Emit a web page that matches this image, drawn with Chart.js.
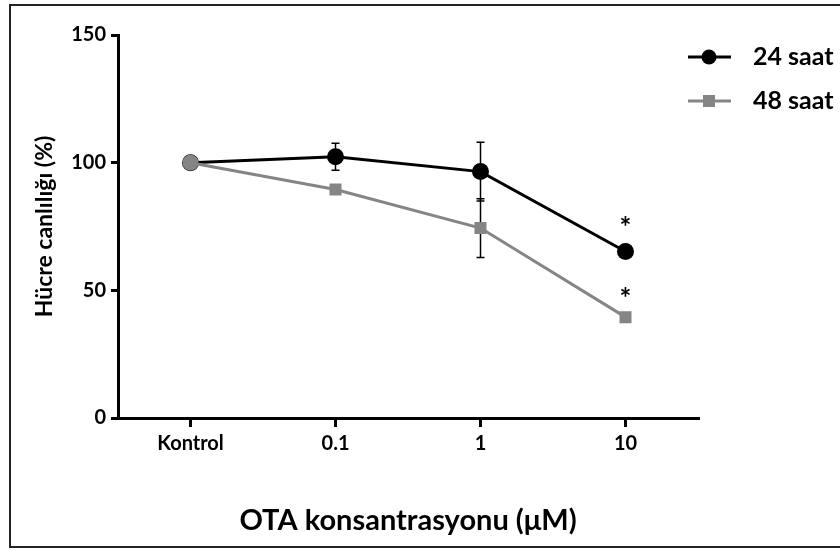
<!DOCTYPE html>
<html>
<head>
<meta charset="utf-8">
<script src="https://cdn.jsdelivr.net/npm/chart.js@4/dist/chart.umd.min.js"></script>
<style>
body { margin: 0; background: #fff; }
#wrap { width: 840px; height: 550px; }
</style>
</head>
<body>
<div id="wrap"><canvas id="myChart" width="840" height="550"></canvas></div>
<script>
'use strict'

// data

var categories = ['Kontrol', '0.1', '1', '10'];
var saat24 = [100, 102.3, 96.5, 65.2];
var saat24Err = [0, 5.3, 11.5, 0];
var saat48 = [100, 89.5, 74.4, 39.5];
var saat48Err = [0, 0, 11.5, 0];
var significant = [false, false, false, true];
var yTicks = [0, 50, 100, 150];

var GRAY = '#858585';
var FONT = 'Lato, "Open Sans", sans-serif';

// error bars, asterisks, legend and the frame

var extras = {
	id: 'extras',
	beforeDraw: function(chart) {
		var ctx = chart.ctx;
		ctx.save();
		ctx.fillStyle = '#fff';
		ctx.fillRect(0, 0, chart.width, chart.height);
		ctx.strokeStyle = '#222';
		ctx.lineWidth = 2;
		ctx.strokeRect(10, 5, chart.width + 10, 542);
		ctx.restore();
	},
	beforeDatasetsDraw: function(chart) {
		var ctx = chart.ctx;
		var y = chart.scales.y;
		ctx.save();
		ctx.strokeStyle = '#000';
		ctx.lineWidth = 1.5;
		[[0, saat24, saat24Err], [1, saat48, saat48Err]].forEach(function(s) {
			var meta = chart.getDatasetMeta(s[0]);
			meta.data.forEach(function(pt, i) {
				var e = s[2][i];
				if (!e) return;
				var top = y.getPixelForValue(s[1][i] + e);
				var bot = y.getPixelForValue(s[1][i] - e);
				ctx.beginPath();
				ctx.moveTo(pt.x, top); ctx.lineTo(pt.x, bot);
				ctx.moveTo(pt.x - 4, top); ctx.lineTo(pt.x + 4, top);
				ctx.moveTo(pt.x - 4, bot); ctx.lineTo(pt.x + 4, bot);
				ctx.stroke();
			});
		});
		ctx.restore();
	},
	afterDraw: function(chart) {
		var ctx = chart.ctx;
		ctx.save();
		// asterisks
		ctx.fillStyle = '#000';
		ctx.font = 'bold 28px ' + FONT;
		ctx.textAlign = 'center';
		ctx.textBaseline = 'middle';
		[0, 1].forEach(function(d) {
			chart.getDatasetMeta(d).data.forEach(function(pt, i) {
				if (significant[i]) ctx.fillText('*', pt.x, pt.y - (d === 0 ? 24 : 18));
			});
		});
		// legend
		var items = [
			{ label: '24 saat', color: '#000', style: 'circle', y: 57 },
			{ label: '48 saat', color: GRAY, style: 'rect', y: 101 }
		];
		items.forEach(function(it) {
			ctx.strokeStyle = it.color;
			ctx.fillStyle = it.color;
			ctx.lineWidth = 3;
			ctx.beginPath();
			ctx.moveTo(688, it.y); ctx.lineTo(731, it.y);
			ctx.stroke();
			if (it.style === 'circle') {
				ctx.beginPath();
				ctx.arc(709, it.y, 7.5, 0, Math.PI * 2);
				ctx.fill();
			} else {
				ctx.fillRect(703, it.y - 6, 12, 12);
			}
			ctx.fillStyle = '#000';
			ctx.font = 'bold 25px ' + FONT;
			ctx.textAlign = 'left';
			ctx.textBaseline = 'middle';
			ctx.fillText(it.label, 753, it.y);
		});
		ctx.restore();
	}
};

var ctx = document.getElementById('myChart').getContext('2d');

var chart = new Chart(ctx, {
	type: 'line',
	data: {
		labels: categories,
		datasets: [{
			label: '24 saat',
			data: saat24,
			borderColor: '#000',
			backgroundColor: '#000',
			borderWidth: 3,
			pointStyle: 'circle',
			pointRadius: 8.5,
			pointBorderWidth: 0,
			order: 2
		},
		{
			label: '48 saat',
			data: saat48,
			borderColor: GRAY,
			backgroundColor: GRAY,
			borderWidth: 3,
			pointStyle: ['circle', 'rect', 'rect', 'rect'],
			pointRadius: [8, 8.5, 8.5, 8.5],
			pointBorderWidth: 0,
			order: 1
		}]
	},
	options: {
		responsive: false,
		animation: false,
		layout: { padding: { left: 14, top: 35, right: 142, bottom: 8 } },
		plugins: {
			legend: { display: false },
			tooltip: { enabled: false }
		},
		scales: {
			x: {
				offset: true,
				afterFit: function(s) { s.height = 550 - 8 - 418; },
				border: { color: '#000', width: 3 },
				grid: { display: true, drawOnChartArea: false, drawTicks: true, tickLength: 9, color: '#000', lineWidth: 3, offset: false },
				ticks: { color: '#000', padding: 5, font: { family: FONT, size: 20, weight: 'bold' } },
				title: {
					display: true,
					text: 'OTA konsantrasyonu (μM)',
					color: '#000',
					padding: { top: 0, bottom: 4 },
					font: { family: FONT, size: 29, weight: 'bold' }
				}
			},
			y: {
				min: 0,
				max: 150,
				afterFit: function(s) { s.width = 118 - 14; },
				afterBuildTicks: function(s) { s.ticks = yTicks.map(function(v) { return { value: v }; }); },
				border: { color: '#000', width: 3 },
				grid: { display: true, drawOnChartArea: false, drawTicks: true, tickLength: 7, color: '#000', lineWidth: 3 },
				ticks: { color: '#000', padding: 5, font: { family: FONT, size: 20, weight: 'bold' } },
				title: {
					display: true,
					text: 'Hücre canlılığı (%)',
					color: '#000',
					padding: { top: 17, bottom: 0 },
					font: { family: FONT, size: 23, weight: 'bold' }
				}
			}
		}
	},
	plugins: [extras]
});
</script>
</body>
</html>
